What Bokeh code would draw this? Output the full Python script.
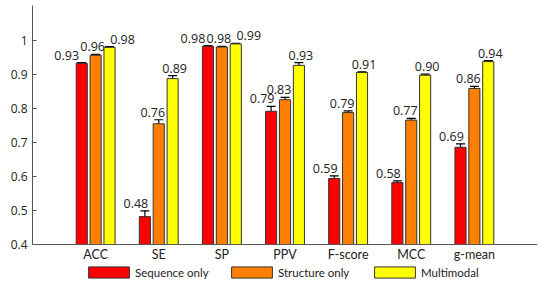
from bokeh.plotting import figure
from bokeh.models import (ColumnDataSource, Whisker, TeeHead, FixedTicker, PrintfTickFormatter,
                          Legend, LegendItem, Range1d)
from bokeh.core.properties import value
from bokeh.embed import file_html
from bokeh.resources import INLINE

metrics = ["ACC", "SE", "SP", "PPV", "F-score", "MCC", "g-mean"]
series = ["Sequence only", "Structure only", "Multimodal"]
colors = ["#FF0000", "#FF8000", "#FFFF00"]

seq_vals = [0.933, 0.482, 0.983, 0.792, 0.594, 0.582, 0.686]
seq_err = [0.002, 0.017, 0.002, 0.014, 0.008, 0.005, 0.010]
str_vals = [0.957, 0.755, 0.981, 0.826, 0.788, 0.766, 0.859]
str_err = [0.002, 0.012, 0.002, 0.007, 0.005, 0.005, 0.006]
mm_vals = [0.980, 0.888, 0.990, 0.927, 0.906, 0.898, 0.938]
mm_err = [0.002, 0.009, 0.002, 0.008, 0.002, 0.003, 0.003]

all_vals = [seq_vals, str_vals, mm_vals]
all_errs = [seq_err, str_err, mm_err]

y_base = 0.4
y_top = 1.103
# frame extends below the axis baseline to make room for tick labels and legend
y_bottom = y_base - (y_top - y_base) * 37 / 239

p = figure(frame_width=505, frame_height=276, output_backend="svg", toolbar_location=None,
           x_range=Range1d(0, 8), y_range=Range1d(y_bottom, y_top),
           min_border_left=32, min_border_right=3, min_border_top=5, min_border_bottom=0)
p.outline_line_color = None
p.xgrid.visible = False
p.ygrid.visible = False

offsets = [-0.22, 0.0, 0.22]
bar_w = 0.176
renderers = []
for k in range(3):
    vals = all_vals[k]
    errs = all_errs[k]
    xs = [i + 1 + offsets[k] for i in range(len(metrics))]
    xo = []
    for i in range(len(metrics)):
        close_ro = abs(str_vals[i] - seq_vals[i]) < 0.03
        close_oy = abs(mm_vals[i] - str_vals[i]) < 0.03
        if k == 0:
            xo.append(-15 if close_ro else -9)
        elif k == 1:
            xo.append(-3 if (close_ro or close_oy) else -6)
        else:
            xo.append(13 if close_oy else 2)
    src = ColumnDataSource(dict(
        x=xs, top=vals,
        upper=[v + e for v, e in zip(vals, errs)],
        lower=[v - e for v, e in zip(vals, errs)],
        label=["%.2f" % v for v in vals],
        xo=xo,
    ))
    r = p.vbar(x="x", top="top", bottom=y_base, width=bar_w, source=src,
               fill_color=colors[k], line_color="#333333", line_width=1)
    renderers.append(r)
    w = Whisker(source=src, base="x", upper="upper", lower="lower",
                line_color="black", line_width=1.2,
                upper_head=TeeHead(size=9, line_color="black", line_width=1.2),
                lower_head=TeeHead(size=9, line_color="black", line_width=1.2))
    p.add_layout(w)
    p.text(x="x", y="upper", text="label", source=src, x_offset="xo", y_offset=-3,
           text_align="center", text_baseline="bottom",
           text_font=value("Open Sans"), text_font_size="12.5px", text_color="#222222")

p.xaxis.fixed_location = y_base
p.xaxis.ticker = FixedTicker(ticks=list(range(1, len(metrics) + 1)))
p.xaxis.major_label_overrides = {i + 1: m for i, m in enumerate(metrics)}
p.xaxis.major_tick_in = 0
p.xaxis.major_tick_out = 0
p.xaxis.minor_tick_line_color = None
p.xaxis.axis_line_color = "#555555"
p.xaxis.major_label_text_font = "Lato"
p.xaxis.major_label_text_font_size = "12.5px"
p.xaxis.major_label_text_color = "#222222"
p.xaxis.major_label_standoff = 2

p.yaxis.bounds = (y_base, y_top)
p.yaxis.ticker = FixedTicker(ticks=[0.4, 0.5, 0.6, 0.7, 0.8, 0.9, 1.0])
p.yaxis.formatter = PrintfTickFormatter(format="%g")
p.yaxis.major_tick_in = 4
p.yaxis.major_tick_out = 0
p.yaxis.minor_tick_line_color = None
p.yaxis.axis_line_color = "#555555"
p.yaxis.major_tick_line_color = "#555555"
p.yaxis.major_label_text_font = "Open Sans"
p.yaxis.major_label_text_font_size = "12px"
p.yaxis.major_label_text_color = "#222222"
p.yaxis.major_label_standoff = 5

legend = Legend(items=[LegendItem(label=series[k], renderers=[renderers[k]]) for k in range(3)],
                orientation="horizontal", location=(51, 2),
                glyph_width=51, glyph_height=14, label_height=14, label_width=88,
                label_standoff=1, spacing=3, padding=0, margin=0,
                border_line_color=None, background_fill_alpha=0,
                label_text_font="Lato", label_text_font_size="11.5px",
                label_text_color="#222222")
p.add_layout(legend)

open("out.html", "w").write(file_html(p, INLINE))
